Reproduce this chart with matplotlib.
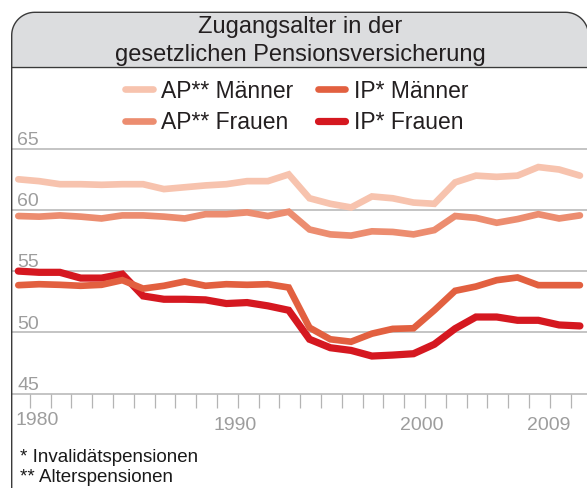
import numpy as np
import matplotlib
matplotlib.use('Agg')
import matplotlib.pyplot as plt
import matplotlib.transforms as mtransforms
from matplotlib.patches import PathPatch
from matplotlib.path import Path
from matplotlib.lines import Line2D

plt.rcParams['font.family'] = ['Liberation Sans', 'DejaVu Sans']

# values, one point per year
ap_maenner = [62.5, 62.35, 62.1, 62.1, 62.05, 62.1, 62.1, 61.7, 61.85, 62.0,
              62.1, 62.35, 62.35, 62.9, 60.95, 60.5, 60.2, 61.1, 60.95, 60.6,
              60.5, 62.25, 62.8, 62.7, 62.8, 63.5, 63.3, 62.8]
ap_frauen = [59.5, 59.45, 59.55, 59.45, 59.3, 59.55, 59.55, 59.45, 59.3, 59.65,
             59.65, 59.8, 59.5, 59.85, 58.4, 58.0, 57.9, 58.25, 58.2, 58.0,
             58.35, 59.5, 59.35, 58.95, 59.25, 59.65, 59.3, 59.55]
ip_maenner = [53.85, 53.93, 53.88, 53.8, 53.88, 54.26, 53.57, 53.8, 54.15, 53.8,
              53.93, 53.88, 53.93, 53.66, 50.38, 49.43, 49.23, 49.89, 50.28, 50.33,
              51.8, 53.39, 53.74, 54.26, 54.48, 53.85, 53.85, 53.85]
ip_frauen = [55.0, 54.9, 54.9, 54.43, 54.43, 54.75, 52.97, 52.7, 52.7, 52.65,
             52.35, 52.43, 52.16, 51.8, 49.43, 48.74, 48.52, 48.06, 48.14, 48.25,
             49.02, 50.3, 51.25, 51.25, 50.98, 50.98, 50.6, 50.52]

year_labels = ['1980', '1990', '2000', '2009']
year_label_pos = [0.9, 10.4, 19.4, 25.5]
y_ticks = [45, 50, 55, 60, 65]

names = ['AP** Männer', 'AP** Frauen', 'IP* Männer', 'IP* Frauen']
colors = ['#f7c3ae', '#ec8d70', '#e26040', '#d51820']

W, H = 587, 488
fig = plt.figure(figsize=(W / 100, H / 100), dpi=100)
px = mtransforms.Affine2D().scale(1.0 / W, 1.0 / H) + fig.transFigure


def rounded_top(l, r, t, b, rad, n=20):
    # outline with rounded top corners, open at the bottom
    a1 = np.linspace(np.pi, np.pi / 2, n)
    a2 = np.linspace(np.pi / 2, 0, n)
    pts = [(l, b)]
    pts += [(l + rad + rad * np.cos(a), t - rad + rad * np.sin(a)) for a in a1]
    pts += [(r - rad + rad * np.cos(a), t - rad + rad * np.sin(a)) for a in a2]
    pts += [(r, b)]
    return pts


dark = '#3a3a3a'
left, right, top = 11.7, 588.5, H - 12.3
hdr_bottom = H - 66.7

pts = rounded_top(left, right, top, hdr_bottom, 23)
fig.patches.append(PathPatch(Path(pts + [pts[0]]), transform=px, facecolor='#dcdddf',
                             edgecolor='none', zorder=-1))
pts = rounded_top(left, right, top, -10, 23)
fig.patches.append(PathPatch(Path(pts), transform=px, facecolor='none', edgecolor=dark,
                             lw=1.0, zorder=5))
fig.lines.append(Line2D([left, W], [hdr_bottom, hdr_bottom], transform=px, color=dark,
                        lw=1.0, zorder=5))

fig.text(300 / W, 1 - 33.5 / H, 'Zugangsalter in der', ha='center', va='baseline',
         fontsize=17, color='#231f20')
fig.text(300 / W, 1 - 60.5 / H, 'gesetzlichen Pensionsversicherung', ha='center', va='baseline',
         fontsize=17, color='#231f20')

ax = fig.add_axes([left / W, (H - 393.5) / H, (W - left) / W, (393.5 - 66.7) / H])
ax.set_facecolor('none')
x = list(range(len(ap_maenner)))
ax.set_xlim(-0.317, 27.34)
ax.set_ylim(45, 71.7)

for v in y_ticks[1:]:
    ax.axhline(v, color='#b4b4b4', lw=1.1, zorder=1)
for s in ['top', 'left', 'right']:
    ax.spines[s].set_visible(False)
ax.spines['bottom'].set_color('#b4b4b4')
ax.spines['bottom'].set_linewidth(1.1)
ax.set_xticks([i + 0.55 for i in range(27)])
ax.set_xticklabels([])
ax.tick_params(axis='x', direction='out', length=10, pad=0, width=0.9, color='#b4b4b4')
ax.set_yticks([])

series = [ap_maenner, ap_frauen, ip_maenner, ip_frauen]
widths = [4.8, 4.8, 4.8, 5.2]
zorders = [3, 3, 5, 4]
handles = []
for vals, c, lw, z, n in zip(series, colors, widths, zorders, names):
    h, = ax.plot(x, vals, color=c, lw=lw, zorder=z, label=n,
                 solid_capstyle='round', solid_joinstyle='miter')
    handles.append(h)

gray = '#9d9d9d'
ytr = mtransforms.offset_copy(ax.get_yaxis_transform(), fig=fig, x=0, y=3.8, units='dots')
for v in y_ticks:
    ax.text((17 - left) / (W - left), v, str(v), transform=ytr, ha='left', va='baseline',
            fontsize=14, color=gray)

for i, (lab, pos) in enumerate(zip(year_labels, year_label_pos)):
    off = -31.5 if i == 0 else -36.5
    xtr = mtransforms.offset_copy(ax.get_xaxis_transform(), fig=fig, x=0, y=off, units='dots')
    ax.text(pos, 0, lab, transform=xtr, ha='center', va='baseline', fontsize=14,
            color=gray, clip_on=False)

leg = ax.legend(handles=handles, loc='upper left', bbox_to_anchor=(125 / W, 1 - 79.5 / H),
                bbox_transform=fig.transFigure, ncol=2, frameon=False, fontsize=16.5,
                handlelength=1.2, handletextpad=0.35, columnspacing=1.1,
                labelspacing=0.38, borderpad=0, borderaxespad=0)
for t in leg.get_texts():
    t.set_color('#231f20')

fig.text(20.5 / W, 1 - 462 / H, '* Invalidätspensionen', ha='left', va='baseline',
         fontsize=13.5, color='#1a1a1a')
fig.text(20.5 / W, 1 - 481.5 / H, '** Alterspensionen', ha='left', va='baseline',
         fontsize=13.5, color='#1a1a1a')

fig.savefig('out.png', dpi=100)
